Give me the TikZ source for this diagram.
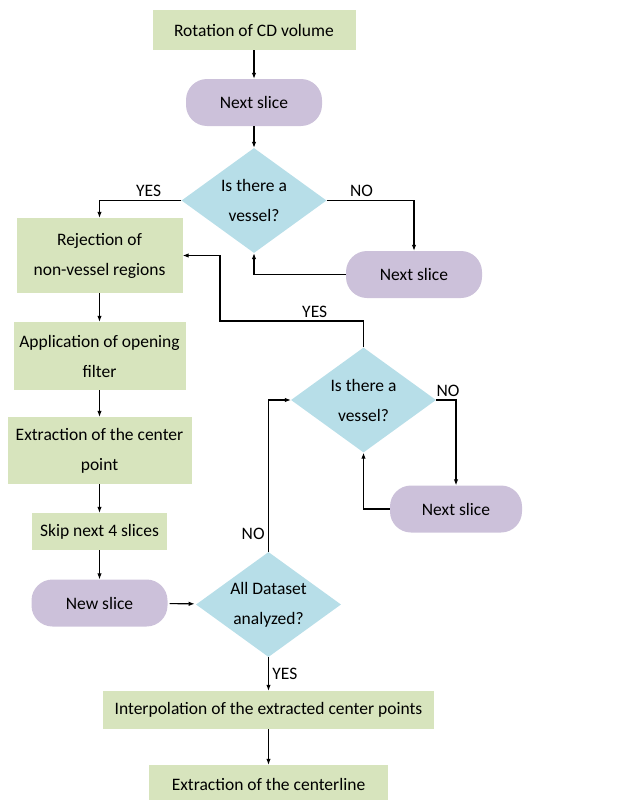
\documentclass[tikz,border=0pt]{standalone}
\usepackage{fontspec}
\setmainfont{Carlito}
\usetikzlibrary{shapes.geometric, arrows.meta, positioning, calc}

\definecolor{boxgreen}{HTML}{D7E4BD}
\definecolor{slicepurple}{HTML}{CCC1DA}
\definecolor{askblue}{HTML}{B7DEE8}

\begin{document}
\begin{tikzpicture}[x=1pt, y=-1pt,
  every node/.style={font=\fontsize{17.5}{30}\selectfont, text=black},
  procbox/.style={fill=boxgreen, align=center, inner sep=0pt},
  slicepill/.style={fill=slicepurple, rounded corners=21pt, minimum width=136pt, minimum height=47pt, inner sep=0pt},
  question/.style={diamond, fill=askblue, aspect=1.4, minimum width=145pt, minimum height=105pt, inner sep=0pt, align=center},
  flow/.style={-{Latex[length=6pt,width=4.5pt]}, line width=1.1pt}]
\useasboundingbox (0,0) rectangle (623,800);

% Main column
\node[procbox, minimum width=203pt, minimum height=40pt] (rotate) at (254,30) {Rotation of CD volume};
\node[slicepill] (next1) at (254,102.5) {Next slice};
\node[question] (vessel1) at (254,200.5) {Is there a\\vessel?};
\node[slicepill] (next2) at (414,274.5) {Next slice};

% Left column
\node[procbox, minimum width=166pt, minimum height=75pt] (reject) at (99.5,255.5) {Rejection of\\non-vessel regions};
\node[procbox, minimum width=172pt, minimum height=68pt] (opening) at (99.5,356) {Application of opening\\filter};
\node[procbox, minimum width=184pt, minimum height=67pt] (centerpt) at (99.5,450.5) {Extraction of the center\\point};
\node[procbox, minimum width=135pt, minimum height=37pt] (skip) at (99.5,531.5) {Skip next 4 slices};
\node[slicepill] (newslice) at (99.5,603) {New slice};

% Right loop
\node[question] (vessel2) at (363.5,400) {Is there a\\vessel?};
\node[slicepill, minimum width=132pt] (next3) at (456,509) {Next slice};

% End
\node[question] (alldone) at (268.5,604.5) {All Dataset\\analyzed?};
\node[procbox, minimum width=331pt, minimum height=38pt] (interp) at (268.5,710) {Interpolation of the extracted center points};
\node[procbox, minimum width=239pt, minimum height=38pt] (centerline) at (268.5,784) {Extraction of the centerline};

\coordinate (loopturn) at (220,321);

% Connectors
\draw[flow] (rotate) -- (next1);
\draw[flow] (next1) -- (vessel1);
\draw[flow] (vessel1.west) -| node[pos=0.2, above] {YES} (reject.north);
\draw[flow] (vessel1.east) -| node[pos=0.2, above] {NO} (next2.north);
\draw[flow] (next2.west) -| (vessel1.south);
\draw[flow] (reject) -- (opening);
\draw[flow] (opening) -- (centerpt);
\draw[flow] (centerpt) -- (skip);
\draw[flow] (skip) -- (newslice);
\draw[flow, shorten <=2pt, shorten >=2pt] (newslice) -- (alldone);
\draw[flow] (alldone.north) |- node[pos=0.06, left] {NO} (vessel2.west);
\draw[flow] (vessel2.east) -| node[pos=0.3, above] {NO} (next3.north);
\draw[flow] (next3.west) -| (vessel2.south);
\draw[flow] (vessel2.north) |- node[pos=0.67, above] {YES} (loopturn) |- (reject.east);
\draw[flow] (alldone.south) -- node[right] {YES} (interp.north);
\draw[flow] (interp) -- (centerline);
\end{tikzpicture}
\end{document}
